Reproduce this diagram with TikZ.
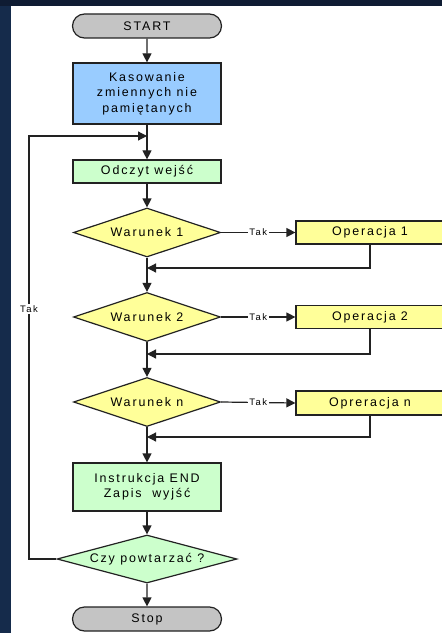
\documentclass[tikz,border=0pt]{standalone}
\usepackage{fontspec}
\setmainfont{Liberation Sans}
\newfontfamily\boxfont{Liberation Sans}[LetterSpace=15]
\usetikzlibrary{arrows.meta,shapes.geometric,shapes.misc}

\definecolor{navy}{HTML}{152B4B}
\definecolor{navytop}{HTML}{0F1C33}
\definecolor{termgray}{HTML}{C4C4C4}
\definecolor{procblue}{HTML}{99CCFF}
\definecolor{procgreen}{HTML}{CCFFCC}
\definecolor{procyellow}{HTML}{FFFF99}
\definecolor{edge}{HTML}{222222}

\tikzset{
  base/.style={draw=edge, line width=1.2bp, font=\boxfont\fontsize{12.5}{15.5}\selectfont,
    text=black, align=center, inner sep=0pt},
  terminal/.style={base, rounded rectangle, fill=termgray, minimum width=149bp, minimum height=24bp},
  procbox/.style={base, rectangle, minimum width=148bp},
  decision/.style={base, diamond, aspect=3, minimum width=147bp, minimum height=49bp},
  flow/.style={draw=edge, line width=1.2bp, -{Triangle[length=9bp,width=9bp]}},
  lab/.style={fill=white, inner sep=1.5bp, font=\boxfont\fontsize{9.5}{11}\selectfont, text=black}
}

\begin{document}
\begin{tikzpicture}[x=1bp, y=-1bp]
  \useasboundingbox (0,0) rectangle (442,633);
  \clip (0,0) rectangle (442,633);
  % dark frame and white sheet
  \fill[navy] (0,0) rectangle (442,633);
  \fill[navytop] (0,0) rectangle (442,6);
  \fill[white] (11,6) rectangle (442,633);

  % main column
  \node[terminal] (start) at (147,26) {START};
  \node[procbox, fill=procblue, minimum height=61bp] (kas) at (147,93.5)
    {Kasowanie\\zmiennych nie\\pamiętanych};
  \node[procbox, fill=procgreen, minimum height=23bp] (odczyt) at (147,171.5) {Odczyt wejść};
  \node[decision, fill=procyellow] (w1) at (147,232.5) {Warunek 1};
  \node[decision, fill=procyellow] (w2) at (147,317) {Warunek 2};
  \node[decision, fill=procyellow] (wn) at (147,402) {Warunek n};
  \node[procbox, fill=procgreen, minimum height=48bp] (instr) at (147,487)
    {Instrukcja END\\Zapis\ \ wyjść};
  \node[decision, fill=procgreen, minimum width=180bp, minimum height=48bp, aspect=3.75] (czy) at (147,559)
    {Czy powtarzać ?};
  \node[terminal] (stop) at (147,619) {Stop};

  % operations on the right
  \node[procbox, fill=procyellow, minimum height=23bp] (op1) at (370,232.5) {Operacja 1};
  \node[procbox, fill=procyellow, minimum height=23bp] (op2) at (370,317) {Operacja 2};
  \node[procbox, fill=procyellow, minimum height=24bp] (opn) at (370,403) {Opreracja n};

  % junctions on the main column
  \coordinate (j0) at (147,136);
  \coordinate (j1) at (147,268);
  \coordinate (j2) at (147,354);
  \coordinate (j3) at (147,437);
  \coordinate (lc) at (29,559);
  \coordinate (lt) at (29,136);

  % connectors
  \draw[flow] (start) -- (kas);
  \draw[flow] (kas) -- (odczyt);
  \draw[flow] (odczyt) -- (w1);
  \draw[flow] (w1) -- (w2);
  \draw[flow] (w2) -- (wn);
  \draw[flow] (wn) -- (instr);
  \draw[flow] (instr) -- (czy);
  \draw[flow] (czy) -- (stop);

  \draw[flow] (w1.east) -- node[lab] {Tak} (op1.west);
  \draw[flow] (w2.east) -- node[lab] {Tak} (op2.west);
  \draw[flow] (wn.east) -- node[lab] {Tak} (opn.west);

  \draw[flow] (op1.south) |- (j1);
  \draw[flow] (op2.south) |- (j2);
  \draw[flow] (opn.south) |- (j3);

  \draw[flow] (czy.west) -- (lc) -- node[lab, pos=0.59] {Tak} (lt) -- (j0);
\end{tikzpicture}
\end{document}
